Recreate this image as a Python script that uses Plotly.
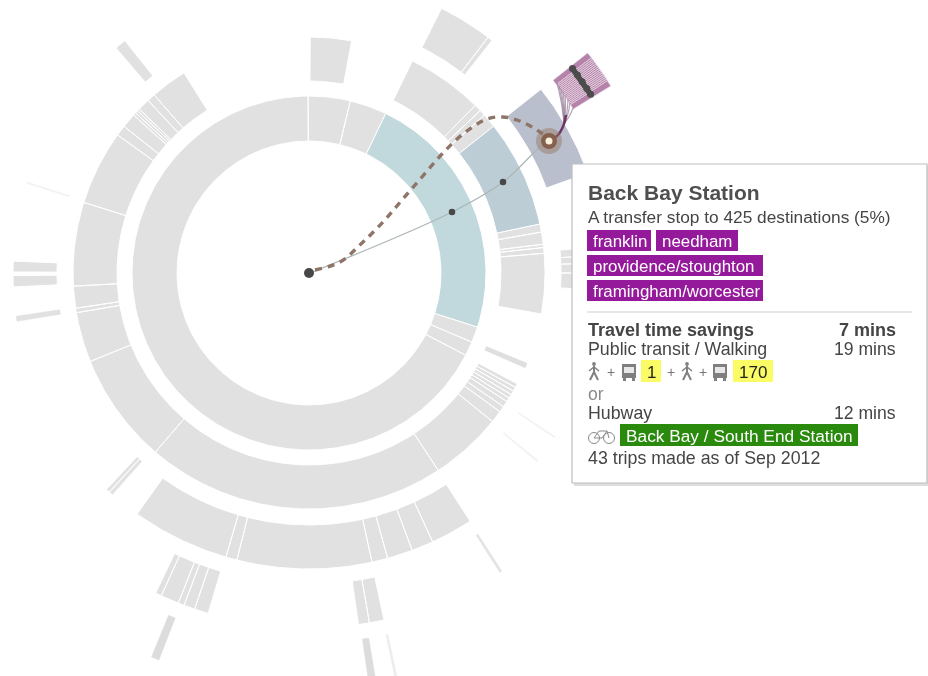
import numpy as np
import plotly.graph_objects as go

# ---- canvas geometry (pixel-scaled axes, origin at the sunburst centre)
W, H = 928, 676
CX, CY = 309, 273

# ---- ring radii
RING_1 = (132, 177)
RING_2 = (192, 236)
RING_3 = (252, 296)
RING_4 = (311, 355)
RING_5 = (370, 415)

# ---- colours
GRAY = "#e1e1e1"
FAINT = "#f2f2f2"
TEAL = "#c1d9dc"
SLATE_2 = "#bccdd5"
SLATE_3 = "#b9bfcd"
PINK = "#b583aa"

# ---- segment edges, degrees clockwise from north; each run is contiguous
RING_1_GRAY = [[-0.3, 13.5, 25.7], [107.8, 113, 117.7, 359.7]]
RING_1_TEAL = [[25.7, 107.8]]
RING_2_GRAY = [
    [0.3, 10.4],
    [26, 44.8, 46.5, 48, 51.5],
    [78, 80, 83, 83.8, 85.2, 100],
    [118, 119, 120, 121, 122, 123, 124.5, 126, 129, 146.8, 220.6, 248, 260.3, 261.4,
     266.8, 287.4, 305.8, 308.4, 312, 312.7, 313.4, 314, 317, 319, 328],
]
RING_2_SLATE = [[51.5, 78]]
RING_2_THIN = [[112.5, 113.7]]
RING_3_GRAY = [
    [26.6, 37.2, 38.2],
    [84.8, 86.5, 88, 90, 93.4],
    [147, 155.3, 159.6, 164.6, 167.7, 194.1, 196.3, 215.5],
    [267.3, 269.5], [270.2, 272.3],
]
RING_3_SLATE = [[51.6, 70.3]]
RING_3_THIN = [[319.5, 321.5], [260.6, 261.6], [221.6, 222.2], [222.5, 223]]
RING_3_FAINT = [[123.6, 123.9], [129.3, 129.6], [287.6, 287.9]]
RING_4_GRAY = [[167.8, 170.2, 172], [196.5, 198.8, 200.6, 201.6, 204.6, 205.6]]
RING_4_THIN = [[147.1, 147.5]]
RING_4_FRINGE = [[51.7, 52.7, 53, 53.3, 53.6, 53.9, 54.2, 54.5, 54.8, 55.1, 55.4, 55.7,
                  56, 56.3, 56.6, 56.9, 57.2, 58.2]]
RING_5_THIN = [[170.7, 171.7], [201.2, 202.3]]
RING_5_FAINT = [[167.7, 168.0]]

# ---- routes (pixel positions on the canvas)
WALK_X = [310, 452, 503, 540, 549]
WALK_Y = [273, 212, 182, 147, 141]
DASH_X = [315, 340, 362, 383, 402, 422, 442, 463, 487, 503, 517, 532, 547]
DASH_Y = [270, 262, 243, 222, 200, 177, 154, 134, 119, 117, 120, 127, 137]
STEM_X = [549, 558, 564, 566]
STEM_Y = [141, 135, 124, 115]
FAN_END_X = [557, 559, 561, 563, 565, 568, 570, 573]
FAN_END_Y = [83, 86, 89, 92, 95, 99, 103, 108]
STOP_X = [452, 503]
STOP_Y = [212, 182]

# ---- tooltip text
TITLE = "Back Bay Station"
SUBTITLE = "A transfer stop to 425 destinations (5%)"
LINES = ["franklin", "needham", "providence/stoughton", "framingham/worcester"]


def X(p):
    return p - CX


def Y(p):
    return CY - p


def polar_xy(deg, r):
    a = np.radians(deg)
    return r * np.sin(a), r * np.cos(a)


def ring_trace(runs, ring, fill, outline="white", lw=1.0):
    xs, ys = [], []
    for run in runs:
        for a0, a1 in zip(run[:-1], run[1:]):
            t = np.linspace(a0, a1, max(2, int(abs(a1 - a0) * 2) + 2))
            ox, oy = polar_xy(t, ring[1])
            ix, iy = polar_xy(t[::-1], ring[0])
            xs += list(ox) + list(ix) + [ox[0], None]
            ys += list(oy) + list(iy) + [oy[0], None]
    return go.Scatter(x=xs, y=ys, mode="lines", fill="toself", fillcolor=fill,
                      line=dict(color=outline, width=lw), hoverinfo="skip", showlegend=False)


fig = go.Figure()
for runs, ring, col in [
    (RING_1_GRAY, RING_1, GRAY), (RING_1_TEAL, RING_1, TEAL),
    (RING_2_GRAY, RING_2, GRAY), (RING_2_SLATE, RING_2, SLATE_2),
    (RING_3_GRAY, RING_3, GRAY), (RING_3_SLATE, RING_3, SLATE_3),
    (RING_4_GRAY, RING_4, GRAY),
]:
    fig.add_trace(ring_trace(runs, ring, col))
for runs, ring, col in [
    (RING_2_THIN, RING_2, "#dfdfdf"), (RING_3_THIN, RING_3, "#e1e1e1"),
    (RING_3_FAINT, RING_3, FAINT), (RING_4_THIN, RING_4, "#e4e4e4"),
    (RING_5_THIN, RING_5, "#dcdcdc"), (RING_5_FAINT, RING_5, "#ececec"),
]:
    fig.add_trace(ring_trace(runs, ring, col, outline=col, lw=0.5))
fig.add_trace(ring_trace(RING_4_FRINGE, RING_4, PINK, outline="#e6d6e3", lw=0.7))

# dark cross-bar on the fringe
bx, by = polar_xy(np.array([52.2, 53.6, 55, 56.4, 57.6]), 333.5)
fig.add_trace(go.Scatter(x=bx, y=by, mode="lines+markers", line=dict(color="#4c4c4c", width=5.5),
                         marker=dict(size=7, color="#4c4c4c"), hoverinfo="skip", showlegend=False))

# fan of routes from the stop to the fringe
for fx, fy in zip(FAN_END_X, FAN_END_Y):
    fig.add_trace(go.Scatter(
        x=[X(v) for v in [STEM_X[2], (STEM_X[2] + fx) / 2 + 1, fx]],
        y=[Y(v) for v in [STEM_Y[2], (STEM_Y[2] + fy) / 2, fy]],
        mode="lines", line=dict(color="rgba(150,125,150,0.7)", width=1.2, shape="spline"),
        hoverinfo="skip", showlegend=False))
fig.add_trace(go.Scatter(x=[X(v) for v in STEM_X], y=[Y(v) for v in STEM_Y], mode="lines",
                         line=dict(color="#6d3560", width=2.4, shape="spline"),
                         hoverinfo="skip", showlegend=False))

# walking route and dashed route
fig.add_trace(go.Scatter(x=[X(v) for v in WALK_X], y=[Y(v) for v in WALK_Y], mode="lines",
                         line=dict(color="#aeb7b7", width=1.3, shape="spline"),
                         hoverinfo="skip", showlegend=False))
fig.add_trace(go.Scatter(x=[X(v) for v in DASH_X], y=[Y(v) for v in DASH_Y], mode="lines",
                         line=dict(color="#8f7468", width=3.4, dash="7px,6px", shape="spline"),
                         hoverinfo="skip", showlegend=False))
fig.add_trace(go.Scatter(x=[X(v) for v in STOP_X], y=[Y(v) for v in STOP_Y], mode="markers",
                         marker=dict(size=6.5, color="#484848"), hoverinfo="skip", showlegend=False))
fig.add_trace(go.Scatter(x=[0], y=[0], mode="markers", marker=dict(size=10, color="#484848"),
                         hoverinfo="skip", showlegend=False))
for size, col in [(26, "rgba(150,115,95,0.45)"), (16, "#86604f"), (7, "#f7f1dc")]:
    fig.add_trace(go.Scatter(x=[X(549)], y=[Y(141)], mode="markers",
                             marker=dict(size=size, color=col, line=dict(width=0)),
                             hoverinfo="skip", showlegend=False))

# ---- tooltip drawing helpers
shapes, notes = [], []


def rect(x0, y0, x1, y1, fill, line=None, lw=0):
    shapes.append(dict(type="rect", xref="x", yref="y", x0=X(x0), x1=X(x1), y0=Y(y0), y1=Y(y1),
                       fillcolor=fill, line=dict(color=line or fill, width=lw), layer="above"))


def text(px, py, s, size=17.3, color="#454545", bold=False, anchor="left"):
    notes.append(dict(x=X(px), y=Y(py), xref="x", yref="y", text=f"<b>{s}</b>" if bold else s,
                      showarrow=False, xanchor=anchor, yanchor="middle", borderpad=0,
                      font=dict(family="Liberation Sans", size=size, color=color)))


def path(points, fill=None, line=None, lw=0):
    d = "M " + " L ".join(f"{X(a)},{Y(b)}" for a, b in points)
    shapes.append(dict(type="path", xref="x", yref="y", path=d + (" Z" if fill else ""),
                       fillcolor=fill, line=dict(color=line or "rgba(0,0,0,0)", width=lw), layer="above"))


def circle(cx, cy, r, fill=None, line=None, lw=0):
    shapes.append(dict(type="circle", xref="x", yref="y", x0=X(cx - r), x1=X(cx + r), y0=Y(cy - r), y1=Y(cy + r),
                       fillcolor=fill or "rgba(0,0,0,0)", line=dict(color=line or "rgba(0,0,0,0)", width=lw), layer="above"))


def walker(x, y):
    circle(x + 1, y - 8, 1.9, "#808080")
    path([(x + 1, y - 6), (x + 1, y), (x - 3, y + 8)], line="#808080", lw=2)
    path([(x + 1, y), (x + 5, y + 8)], line="#808080", lw=2)
    path([(x - 4, y - 1), (x + 1, y - 5), (x + 6, y - 1)], line="#808080", lw=1.5)


def bus(x0, y):
    rect(x0, y - 8, x0 + 14, y + 6, "#7f7f7f")
    rect(x0 + 2, y - 5, x0 + 12, y + 1, "#e8e8e8")
    rect(x0 + 1, y + 6, x0 + 4, y + 9, "#7f7f7f")
    rect(x0 + 10, y + 6, x0 + 13, y + 9, "#7f7f7f")


# panel
rect(574, 166, 928, 486, "#dedede")
rect(572, 164, 927, 483, "white", "#bdbdbd", 1.2)
text(587, 192, TITLE, size=21, color="#4f4f4f", bold=True)
text(587, 217, SUBTITLE)

PURPLE = "#951a9b"
for (x0, y0, x1, y1), s in zip(
    [(587, 230, 651, 251), (656, 230, 738, 251), (587, 255, 763, 276), (587, 280, 763, 301)], LINES
):
    rect(x0, y0, x1, y1, PURPLE)
    text(x0 + 4.5, (y0 + y1) / 2 + 0.5, s, size=16.9, color="white")

shapes.append(dict(type="line", xref="x", yref="y", x0=X(587), x1=X(912), y0=Y(312), y1=Y(312),
                   line=dict(color="#cfcfcf", width=1), layer="above"))

text(587, 330, "Travel time savings", size=18, bold=True)
text(897, 330, "7 mins", size=18, bold=True, anchor="right")
text(587, 349, "Public transit / Walking", size=17.8)
text(897, 349, "19 mins", size=17.6, anchor="right")

walker(593, 372)
text(606, 372, "+", size=14, color="#777777")
bus(622, 372)
rect(641, 360, 661, 382, "#fbfb66")
text(651, 372, "1", size=17, color="#222222", anchor="center")
text(666, 372, "+", size=14, color="#777777")
walker(686, 372)
text(698, 372, "+", size=14, color="#777777")
bus(713, 372)
rect(733, 360, 773, 382, "#fbfb66")
text(753, 372, "170", size=17, color="#222222", anchor="center")

text(587, 394, "or", size=17.5, color="#8a8a8a")
text(587, 413, "Hubway", size=17.8)
text(897, 413, "12 mins", size=17.6, anchor="right")

circle(594, 438, 5.5, None, "#8a8a8a", 1)
circle(609, 438, 5.5, None, "#8a8a8a", 1)
path([(594, 438), (599, 431), (607, 431), (609, 438)], line="#8a8a8a", lw=1)
path([(594, 438), (602, 438), (607, 431)], line="#8a8a8a", lw=1)
rect(620, 424, 858, 446, "#2a8a0e")
text(625, 435.5, "Back Bay / South End Station", size=17.3, color="white")
text(587, 458, "43 trips made as of Sep 2012", size=17.8)

fig.update_layout(
    width=W, height=H, margin=dict(l=0, r=0, t=0, b=0),
    paper_bgcolor="white", plot_bgcolor="white", showlegend=False,
    xaxis=dict(range=[-CX, W - CX], visible=False, fixedrange=True),
    yaxis=dict(range=[CY - H, CY], visible=False, fixedrange=True),
    shapes=shapes, annotations=notes,
)
fig.write_html("out.html", config=dict(displayModeBar=False),
               post_script="document.body.style.margin='0';document.body.style.overflow='hidden';"
                           "document.body.style.filter='blur(0.5px)';")
